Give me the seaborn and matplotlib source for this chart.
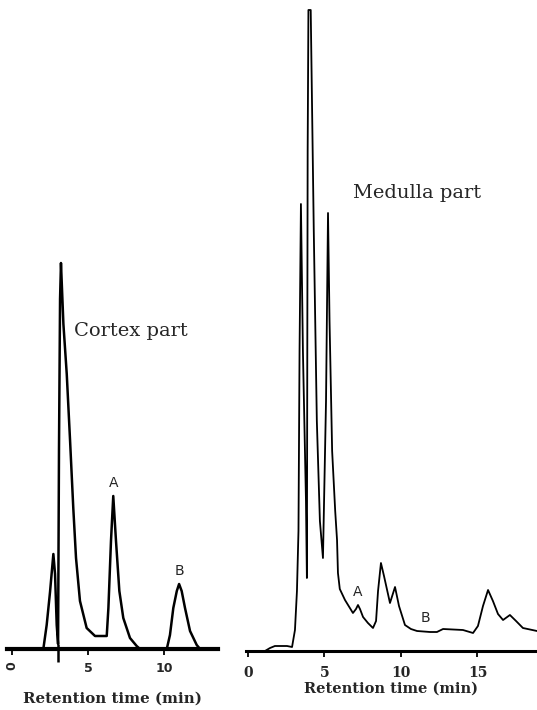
import matplotlib
matplotlib.use("Agg")
import matplotlib.pyplot as plt
import numpy as np
import pandas as pd
import seaborn as sns

# ---------------- data ----------------
cortex_time = [-0.33, 2.06, 2.28, 2.50, 2.72, 2.83, 2.94, 3.03, 3.09, 3.16, 3.22,
               3.38, 3.60, 3.82, 4.03, 4.21, 4.47, 4.91, 5.46, 6.23, 6.34, 6.51,
               6.66, 6.84, 7.06, 7.32, 7.76, 8.20, 8.42, 10.18, 10.39, 10.61,
               10.84, 10.99, 11.16, 11.38, 11.71, 12.15, 12.37, 13.55]
cortex_signal = [0, 0, 24, 57, 95, 75, 24, 5, 200, 350, 386,
                 325, 275, 208, 141, 91, 48, 21, 13, 13, 41, 108,
                 153, 108, 58, 31, 11, 3, 0, 0, 14, 41,
                 58, 65, 58, 41, 18, 4, 0, 0]
cortex_injection = 3.03
cortex_ticks = [0, 5, 10]
cortex_tick_labels = ["0", "5", "10"]
cortex_peak_names = ["A", "B"]
cortex_peak_times = [6.66, 10.99]
cortex_peak_heights = [153, 65]

medulla_time = [-0.13, 1.11, 1.44, 1.76, 2.55, 2.88, 3.07, 3.20, 3.30, 3.37, 3.46,
                3.59, 3.79, 3.85, 3.90, 3.95, 4.10, 4.30, 4.50, 4.70, 4.90,
                5.10, 5.23, 5.33, 5.50, 5.70, 5.82, 5.88, 6.00, 6.34, 6.86,
                7.06, 7.19, 7.32, 7.52, 7.84, 8.17, 8.37, 8.50, 8.69, 8.89,
                9.28, 9.61, 9.87, 10.26, 10.65, 11.05, 11.90, 12.35, 12.75,
                14.05, 14.71, 15.03, 15.36, 15.69, 16.01, 16.34, 16.67, 17.12,
                17.52, 17.97, 18.89]
medulla_signal = [0, 0, 3, 5, 5, 4, 21, 60, 120, 300, 447,
                  300, 150, 73, 500, 641, 641, 420, 230, 130, 93,
                  250, 438, 330, 200, 140, 111, 78, 62, 51, 38,
                  42, 46, 42, 34, 28, 23, 30, 60, 88, 75,
                  48, 64, 45, 26, 22, 20, 19, 19, 22,
                  21, 18, 25, 45, 61, 50, 37, 31, 36,
                  30, 23, 20]
medulla_ticks = [0, 5, 10, 15]
medulla_tick_labels = ["0", "5", "10", "15"]
medulla_peak_names = ["A", "B"]
medulla_peak_times = [7.19, 11.57]
medulla_peak_heights = [46, 20]

cortex_df = pd.DataFrame({"time": cortex_time, "signal": cortex_signal})
medulla_df = pd.DataFrame({"time": medulla_time, "signal": medulla_signal})

# ---------------- figure ----------------
sns.set_theme(style="white")
plt.rcParams["font.family"] = ["DejaVu Serif", "DejaVu Sans"]

W, H = 537, 710
fig = plt.figure(figsize=(W / 100, H / 100), dpi=100)
fig.patch.set_facecolor("white")

ax1 = fig.add_axes([7 / W, (H - 649) / H, (218 - 7) / W, 649 / H])
ax2 = fig.add_axes([246 / W, (H - 651) / H, (537 - 246) / W, 651 / H])


def style_axis(ax, lw):
    for s in ["top", "right", "left"]:
        ax.spines[s].set_visible(False)
    ax.spines["bottom"].set_linewidth(lw)
    ax.spines["bottom"].set_color("black")
    ax.set_yticks([])
    ax.set_ylabel("")
    ax.set_facecolor("none")
    ax.tick_params(axis="x", direction="out", length=4, width=1.3,
                   color="black", bottom=True)


# ---- Cortex ----
sns.lineplot(data=cortex_df, x="time", y="signal", ax=ax1, color="black",
             linewidth=1.8, sort=False, estimator=None)
ax1.set_xlim(-0.33, 13.55)
ax1.set_ylim(0, 649)
style_axis(ax1, 3.0)
ax1.vlines(cortex_injection, -13, 5, color="black", linewidth=1.8, clip_on=False)
ax1.set_xticks(cortex_ticks)
ax1.set_xticklabels(cortex_tick_labels, fontsize=9, fontfamily="DejaVu Sans",
                    fontweight="bold")
ax1.get_xticklabels()[0].set_rotation(90)
ax1.tick_params(axis="x", pad=5)
ax1.set_xlabel("Retention time (min)", fontsize=10.8, fontweight="bold",
               labelpad=12)
ax1.text(4.1, 318, "Cortex part", fontsize=14, ha="left", va="center")
for name, t, h in zip(cortex_peak_names, cortex_peak_times, cortex_peak_heights):
    ax1.text(t, h + 6, name, fontsize=10, ha="center", va="bottom",
             fontfamily="DejaVu Sans")

# ---- Medulla ----
sns.lineplot(data=medulla_df, x="time", y="signal", ax=ax2, color="black",
             linewidth=1.3, sort=False, estimator=None)
ax2.set_xlim(-0.13, 18.89)
ax2.set_ylim(0, 651)
style_axis(ax2, 2.2)
ax2.set_xticks(medulla_ticks)
ax2.set_xticklabels(medulla_tick_labels, fontsize=10, fontweight="bold")
ax2.tick_params(axis="x", pad=7)
ax2.set_xlabel("Retention time (min)", fontsize=10.5, fontweight="bold",
               labelpad=1)
ax2.text(6.86, 458, "Medulla part", fontsize=14, ha="left", va="center")
for name, t, h in zip(medulla_peak_names, medulla_peak_times, medulla_peak_heights):
    ax2.text(t, h + 6, name, fontsize=10, ha="center", va="bottom",
             fontfamily="DejaVu Sans")

fig.savefig("out.png", dpi=100, facecolor="white")
